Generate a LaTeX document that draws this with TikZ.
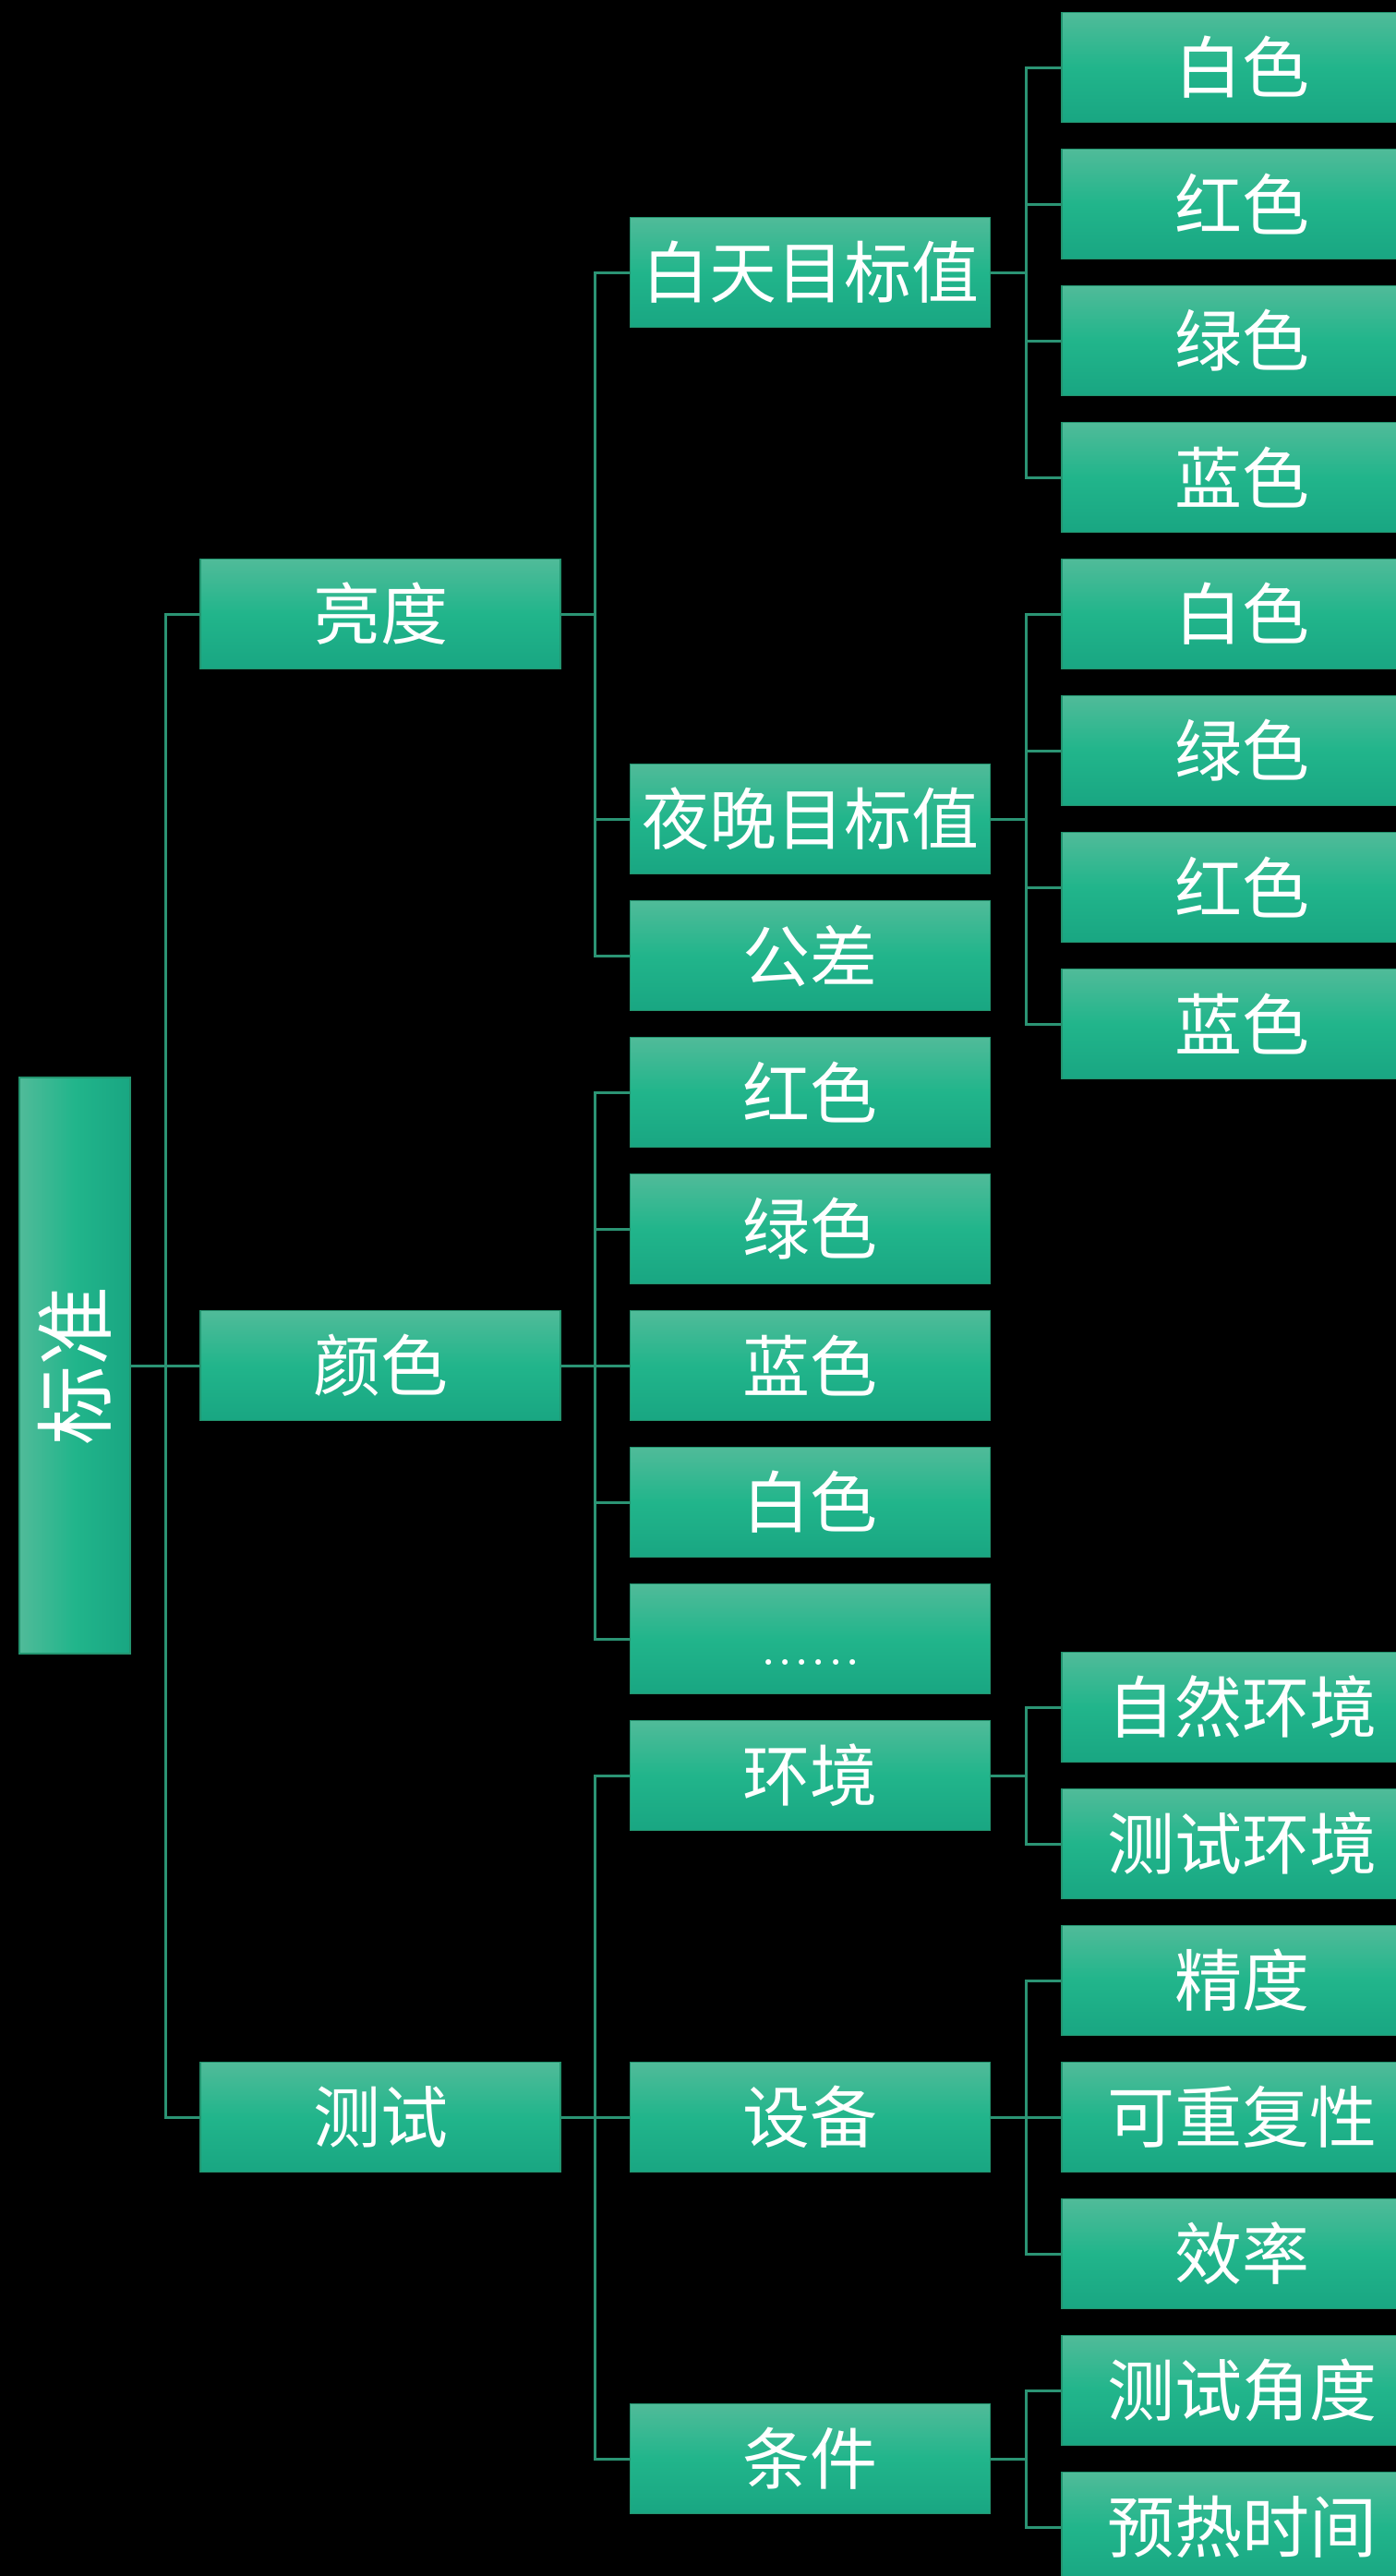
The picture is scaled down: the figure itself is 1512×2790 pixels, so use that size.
\documentclass[tikz,border=0pt]{standalone}
\usepackage{fontspec}
\newfontfamily\cjk{Noto Sans CJK SC}
\usetikzlibrary{calc}
\definecolor{gtop}{HTML}{50BB99}
\definecolor{gmid}{HTML}{21B58B}
\definecolor{gbot}{HTML}{19A682}
\definecolor{gedge}{HTML}{23946F}
\definecolor{gline}{HTML}{2B9474}
\tikzset{
  box/.style={draw=gedge, line width=1.2pt, top color=gtop, bottom color=gbot, middle color=gmid,
    minimum width=390pt, minimum height=119pt, inner sep=0pt, text=white,
    font=\cjk\fontsize{73}{80}\selectfont},
  rootbox/.style={draw=gedge, line width=1.2pt, left color=gtop, right color=gbot, middle color=gmid,
    minimum width=120pt, minimum height=624pt, inner sep=0pt, text=white,
    font=\cjk\fontsize{86}{90}\selectfont},
  conn/.style={draw=gline, line width=3pt},
  fork/.style={to path={-| ($(\tikztostart)!.5!(\tikztotarget)$) |- (\tikztotarget)}}
}
\begin{document}
\begin{tikzpicture}[x=1pt,y=-1pt]
\clip (0,0) rectangle (1512,2790);
\fill[black] (0,0) rectangle (1512,2790);
% root
\node[rootbox] (root) at (81,{73+148*9.5}) {\rotatebox{90}{标准}};
% level 1
\node[box] (l) at (412,{73+148*4}) {亮度};
\node[box] (c) at (412,{73+148*9.5}) {颜色};
\node[box] (t) at (412,{73+148*15}) {测试};
% level 2
\node[box] (ld) at (877.75,{73+148*1.5}) {白天目标值};
\node[box] (ln) at (877.75,{73+148*5.5}) {夜晚目标值};
\node[box] (lt) at (877.75,{73+148*6.5}) {公差};
\node[box] (cr) at (877.75,{73+148*7.5}) {红色};
\node[box] (cg) at (877.75,{73+148*8.5}) {绿色};
\node[box] (cb) at (877.75,{73+148*9.5}) {蓝色};
\node[box] (cw) at (877.75,{73+148*10.5}) {白色};
\node[box] (ce) at (877.75,{73+148*11.5}) {\vphantom{色}{\rmfamily ......}};
\node[box] (te) at (877.75,{73+148*12.5}) {环境};
\node[box] (tq) at (877.75,{73+148*15}) {设备};
\node[box] (tc) at (877.75,{73+148*17.5}) {条件};
% level 3
\node[box] (ld1) at (1345,{73+148*0}) {白色};
\node[box] (ld2) at (1345,{73+148*1}) {红色};
\node[box] (ld3) at (1345,{73+148*2}) {绿色};
\node[box] (ld4) at (1345,{73+148*3}) {蓝色};
\node[box] (ln1) at (1345,{73+148*4}) {白色};
\node[box] (ln2) at (1345,{73+148*5}) {绿色};
\node[box] (ln3) at (1345,{73+148*6}) {红色};
\node[box] (ln4) at (1345,{73+148*7}) {蓝色};
\node[box] (te1) at (1345,{73+148*12}) {自然环境};
\node[box] (te2) at (1345,{73+148*13}) {测试环境};
\node[box] (tq1) at (1345,{73+148*14}) {精度};
\node[box] (tq2) at (1345,{73+148*15}) {可重复性};
\node[box] (tq3) at (1345,{73+148*16}) {效率};
\node[box] (tc1) at (1345,{73+148*17}) {测试角度};
\node[box] (tc2) at (1345,{73+148*18}) {预热时间};
% connectors
\foreach \p/\ch in {root/l,root/c,root/t,
  l/ld,l/ln,l/lt,
  c/cr,c/cg,c/cb,c/cw,c/ce,
  t/te,t/tq,t/tc,
  ld/ld1,ld/ld2,ld/ld3,ld/ld4,
  ln/ln1,ln/ln2,ln/ln3,ln/ln4,
  te/te1,te/te2,
  tq/tq1,tq/tq2,tq/tq3,
  tc/tc1,tc/tc2}
  \draw[conn] (\p.east) to[fork] (\ch.west);
\end{tikzpicture}
\end{document}
